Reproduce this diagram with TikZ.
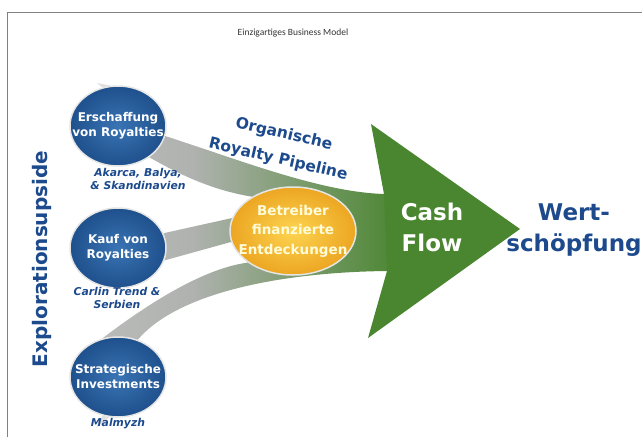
\documentclass[tikz,border=0pt]{standalone}
\usepackage{fontspec}
\setmainfont{DejaVu Sans}
\newfontfamily\titlefont{Carlito}
\usetikzlibrary{shapes.geometric}
\usetikzlibrary{backgrounds}

\definecolor{arrowgreen}{RGB}{74,134,48}
\definecolor{textblue}{RGB}{28,74,140}
\definecolor{ballblue}{RGB}{58,116,180}
\definecolor{balldark}{RGB}{30,80,140}
\definecolor{goldin}{RGB}{253,212,80}
\definecolor{goldout}{RGB}{236,166,34}
\definecolor{bandgray}{RGB}{176,178,176}

\pgfdeclarehorizontalshading{bandfade}{100bp}{color(0bp)=(bandgray!70!white); color(40bp)=(bandgray); color(75bp)=(arrowgreen); color(100bp)=(arrowgreen)}

\tikzset{
  ball/.style={ellipse, minimum width=96pt, minimum height=80pt, inner sep=-14pt,
    draw=gray!20, line width=1.5pt, inner color=ballblue, outer color=balldark,
    text=white, align=center, font=\bfseries\fontsize{12}{15}\selectfont},
  gold/.style={ellipse, minimum width=126pt, minimum height=88pt, inner sep=-10pt,
    draw=gray!20, line width=1.5pt, inner color=goldin, outer color=goldout,
    text=yellow!15, align=center, font=\bfseries\fontsize{13.5}{19.5}\selectfont},
  note/.style={text=textblue, align=center, font=\bfseries\itshape\fontsize{10.8}{13.5}\selectfont},
  bigword/.style={align=center, font=\bfseries\fontsize{23}{31}\selectfont},
  pipe/.style={inner sep=0pt, text=textblue, align=center, font=\bfseries\fontsize{15.5}{26}\selectfont}
}

\begin{document}
\begin{tikzpicture}[x=1pt, y=-1pt]
  \useasboundingbox (0,0) rectangle (642,437);
  \draw [gray, line width=1pt] (7,437) -- (7,12) -- (642,12);

  \node [font=\titlefont\fontsize{9.5}{11}\selectfont, text=black!80] (title) at (293,33) {Einzigartiges Business Model};
  \node [rotate=90, text=textblue, font=\bfseries\fontsize{20}{22}\selectfont] (explor) at (42,259) {Explorationsupside};

  \node [ball] (erschaffung) at (118,126) {Erschaffung\\von Royalties};
  \node [ball] (kauf) at (118,248) {Kauf von\\Royalties};
  \node [ball] (strategie) at (118,377) {Strategische\\Investments};
  \node [gold] (entdeckung) at (293,231) {Betreiber\\finanzierte\\Entdeckungen};

  \node [note] (akarca) at (138,179) {Akarca, Balya,\\\& Skandinavien};
  \node [note] (carlin) at (117,298) {Carlin Trend \&\\Serbien};
  \node [note] (malmyzh) at (118,424) {Malmyzh};

  \node [pipe, rotate=-13] (pipeline) at (281,147) {Organische\\Royalty Pipeline};

  \coordinate (notchtop) at (384,194);
  \coordinate (notchbot) at (387,271);
  \coordinate (barbtop) at (371,124);
  \coordinate (barbbot) at (368,338);
  \coordinate (tip) at (520,229);

  \begin{pgfonlayer}{background}
    % bands from the three sources into the shaft
    \path [shading=bandfade] (erschaffung.-12) .. controls (240,160) and (320,192) .. (notchtop)
      -- (400,194) -- (400,271) -- (notchbot)
      .. controls (290,272) and (180,290) .. (strategie.62) -- (strategie.112)
      .. controls (150,302) and (205,268) .. (entdeckung.215) -- (entdeckung.190)
      -- (kauf.-15) -- (kauf.18) -- (entdeckung.168) -- (entdeckung.140)
      .. controls (210,190) and (175,172) .. (erschaffung.-45) -- cycle;
    \fill [gray!25] (erschaffung.112) -- (97,83) -- (erschaffung.100) -- cycle;
    \fill [gray!25] (strategie.-112) -- (96,428) -- (strategie.-102) -- cycle;
    \fill [arrowgreen] (notchtop) -- (barbtop) -- (tip) -- (barbbot) -- (notchbot) -- cycle;
  \end{pgfonlayer}

  \node [bigword, text=white] (cashflow) at (432,227) {Cash\\Flow};
  \node [bigword, text=textblue] (wert) at (574,230) {Wert-\\schöpfung};
\end{tikzpicture}
\end{document}
